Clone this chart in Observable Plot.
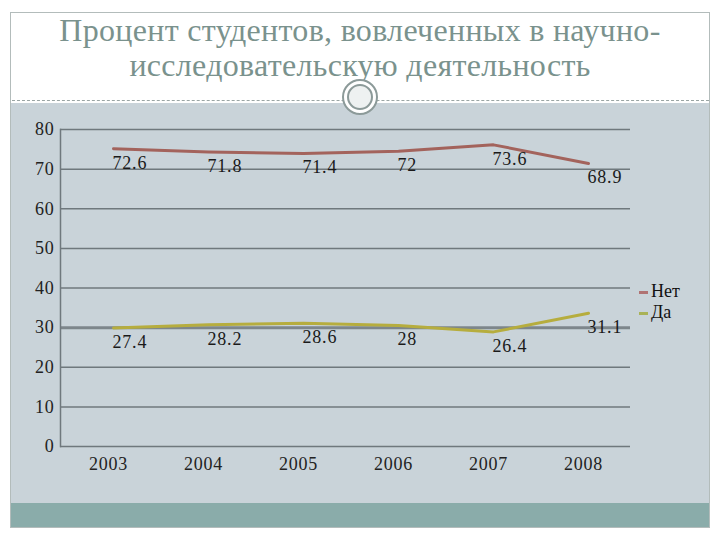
<!DOCTYPE html>
<html>
<head>
<meta charset="utf-8">
<script src="https://cdn.jsdelivr.net/npm/d3@7"></script>
<script src="https://cdn.jsdelivr.net/npm/@observablehq/plot@0.6"></script>
<style>
  html, body { margin: 0; padding: 0; background: #ffffff; }
  #page { position: relative; width: 720px; height: 540px; overflow: hidden; background: #fff; }
  #frame { position: absolute; left: 10px; top: 12px; width: 700px; height: 516px; border: 1px solid #b3bcbb; box-sizing: border-box; }
  #title { position: absolute; left: 10px; top: 13px; width: 700px; text-align: center;
           font-family: "Liberation Serif", serif; font-size: 32px; line-height: 35px; letter-spacing: 0.3px; color: #7a928d; }
  #dash { position: absolute; left: 12px; top: 100px; width: 697px; border-top: 1px dashed #9aa5a4; }
  #panel { position: absolute; left: 11px; top: 103px; width: 699px; height: 400px; background: #c9d3d9; }
  #strip { position: absolute; left: 11px; top: 503px; width: 699px; height: 25px; background: #8aacaa; }
  #ring { position: absolute; left: 342px; top: 79px; width: 36px; height: 36px; border-radius: 50%;
          background: #ffffff; border: 2px solid #8c9a99; box-sizing: border-box; }
  #ring::after { content: ""; position: absolute; left: 3px; top: 3px; right: 3px; bottom: 3px; border-radius: 50%;
          border: 2px solid #8c9a99; background: #eef1f1; }
  #chart { position: absolute; left: 0; top: 103px; }
  #legend { position: absolute; left: 639px; top: 281px; font-family: "Liberation Serif", serif; font-size: 18px; color: #111; }
  #legend .row { height: 21px; line-height: 21px; white-space: nowrap; }
  #legend .sw { display: inline-block; width: 9px; height: 3px; vertical-align: middle; margin-right: 3px; }
</style>
</head>
<body>
<div id="page">
  <div id="panel"></div>
  <div id="strip"></div>
  <div id="frame"></div>
  <div id="title">Процент студентов, вовлеченных в научно-<br>исследовательскую деятельность</div>
  <div id="dash"></div>
  <div id="ring"></div>
  <div id="chart"></div>
  <div id="legend"></div>
</div>
<script>
const years = ["2003", "2004", "2005", "2006", "2007", "2008"];
const net = [72.6, 71.8, 71.4, 72, 73.6, 68.9];
const da = [27.4, 28.2, 28.6, 28, 26.4, 31.1];
const seriesNames = ["Нет", "Да"];
const seriesColors = ["#a3635c", "#b6ad3e"];
const legendColors = ["#b07373", "#a9b257"];
const yTicks = [0, 10, 20, 30, 40, 50, 60, 70, 80];
const shadowTick = [30];

const data = years.flatMap((yr, i) => [
  {year: yr, series: seriesNames[0], value: net[i]},
  {year: yr, series: seriesNames[1], value: da[i]}
]);

const chart = Plot.plot({
  width: 720,
  height: 400,
  marginLeft: 60,
  marginRight: 90,
  marginTop: 26,
  marginBottom: 57,
  style: {background: "transparent", fontFamily: "Liberation Serif", fontSize: "18px", color: "#222", letterSpacing: "0.8px"},
  x: {type: "point", domain: years, padding: 0.5, label: null},
  y: {domain: [0, 80], ticks: yTicks, label: null},
  color: {domain: seriesNames, range: seriesColors},
  marks: [
    Plot.ruleY(yTicks, {stroke: "#6f787d", strokeWidth: 1.5}),
    Plot.ruleY(shadowTick, {stroke: "#7d868b", strokeWidth: 3}),
    Plot.frame({anchor: "left", stroke: "#6f787d", strokeWidth: 1.5}),
    Plot.axisY({ticks: yTicks, tickSize: 0, tickPadding: 6, fontSize: 18, label: null, fill: "#222"}),
    Plot.axisX({tickSize: 0, tickPadding: 11, fontSize: 18, label: null, fill: "#222"}),
    Plot.line(data, {x: "year", y: "value", z: "series", stroke: "series", strokeWidth: 3, dx: 5, dy: -10}),
    Plot.text(data, {x: "year", y: "value", text: d => String(d.value), textAnchor: "start",
                     dx: 4, dy: 4, fontSize: 18, fill: "#1a1a1a"})
  ]
});
document.getElementById("chart").appendChild(chart);

const legend = document.getElementById("legend");
seriesNames.forEach((name, i) => {
  const row = document.createElement("div");
  row.className = "row";
  const sw = document.createElement("span");
  sw.className = "sw";
  sw.style.background = legendColors[i];
  row.appendChild(sw);
  row.appendChild(document.createTextNode(name));
  legend.appendChild(row);
});
</script>
</body>
</html>
